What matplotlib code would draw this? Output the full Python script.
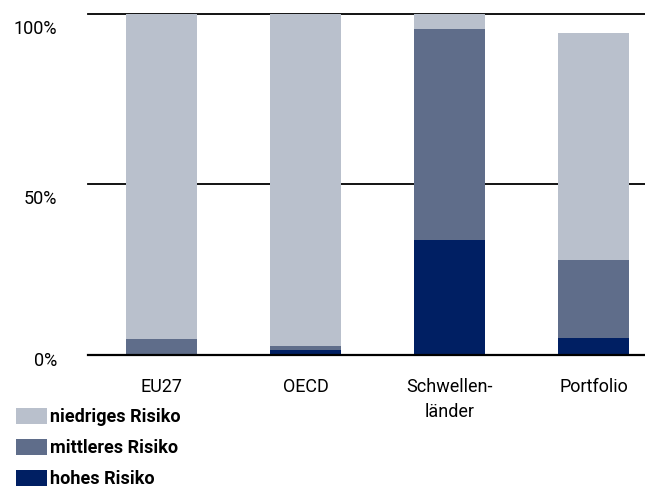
import numpy as np
import matplotlib
matplotlib.use("Agg")
import matplotlib.pyplot as plt
from matplotlib.transforms import blended_transform_factory, ScaledTranslation

plt.rcParams['font.family'] = ['Roboto', 'DejaVu Sans']

# data (percent shares)
categories = ['EU27', 'OECD', 'Schwellen-\nländer', 'Portfolio']
hohes = [0.0, 1.4, 33.5, 4.8]
mittleres = [4.4, 1.2, 62.1, 22.9]
niedriges = [95.6, 97.4, 4.4, 66.7]
series_names = ['niedriges Risiko', 'mittleres Risiko', 'hohes Risiko']
ytick_vals = [0, 50, 100]
ytick_labels = ['0%', '50%', '100%']

c_low = '#b9c0cc'
c_mid = '#5f6d8a'
c_high = '#001f63'
fs = 13

fig = plt.figure(figsize=(6.45, 4.88), dpi=100)
ax = fig.add_axes([88 / 645, 1 - 354.5 / 488, 1 - 88 / 645, (354.5 - 13.5) / 488])

x = np.arange(len(categories))
w = 0.49
hohes = np.array(hohes)
mittleres = np.array(mittleres)
niedriges = np.array(niedriges)

b_high = ax.bar(x, hohes, w, color=c_high, label=series_names[2], zorder=2)
b_mid = ax.bar(x, mittleres, w, bottom=hohes, color=c_mid, label=series_names[1], zorder=2)
b_low = ax.bar(x, niedriges, w, bottom=hohes + mittleres, color=c_low, label=series_names[0], zorder=2)

for v in ytick_vals:
    ax.axhline(v, color='black', lw=1.6 if v == 0 else 1.3, zorder=3 if v == 0 else 1, clip_on=False)

ax.set_xlim(-0.51, 3.358)
ax.set_ylim(0, 100)
for s in ax.spines.values():
    s.set_visible(False)

ax.set_xticks(x)
ax.set_xticklabels(categories, fontsize=fs, linespacing=1.5)
ax.tick_params(axis='x', length=0, pad=17)
ax.set_yticks([])

# y labels sit slightly below their gridlines
trans = blended_transform_factory(fig.transFigure, ax.transData)
y_offsets = [-6, -15, -16]  # px
for v, lab, off in zip(ytick_vals, ytick_labels, y_offsets):
    ax.text(57 / 645, v, lab, transform=trans + ScaledTranslation(0, off / 100, fig.dpi_scale_trans),
            ha='right', va='center', fontsize=fs, clip_on=False)

leg = fig.legend(handles=[b_low, b_mid, b_high], labels=series_names,
                 loc='upper left', bbox_to_anchor=(16 / 645, 1 - 408 / 488),
                 frameon=False, borderpad=0, borderaxespad=0,
                 handlelength=1.72, handleheight=0.94, handletextpad=0.17,
                 labelspacing=0.72, prop={'weight': 'bold', 'size': fs})

fig.savefig('out.png', dpi=100)
